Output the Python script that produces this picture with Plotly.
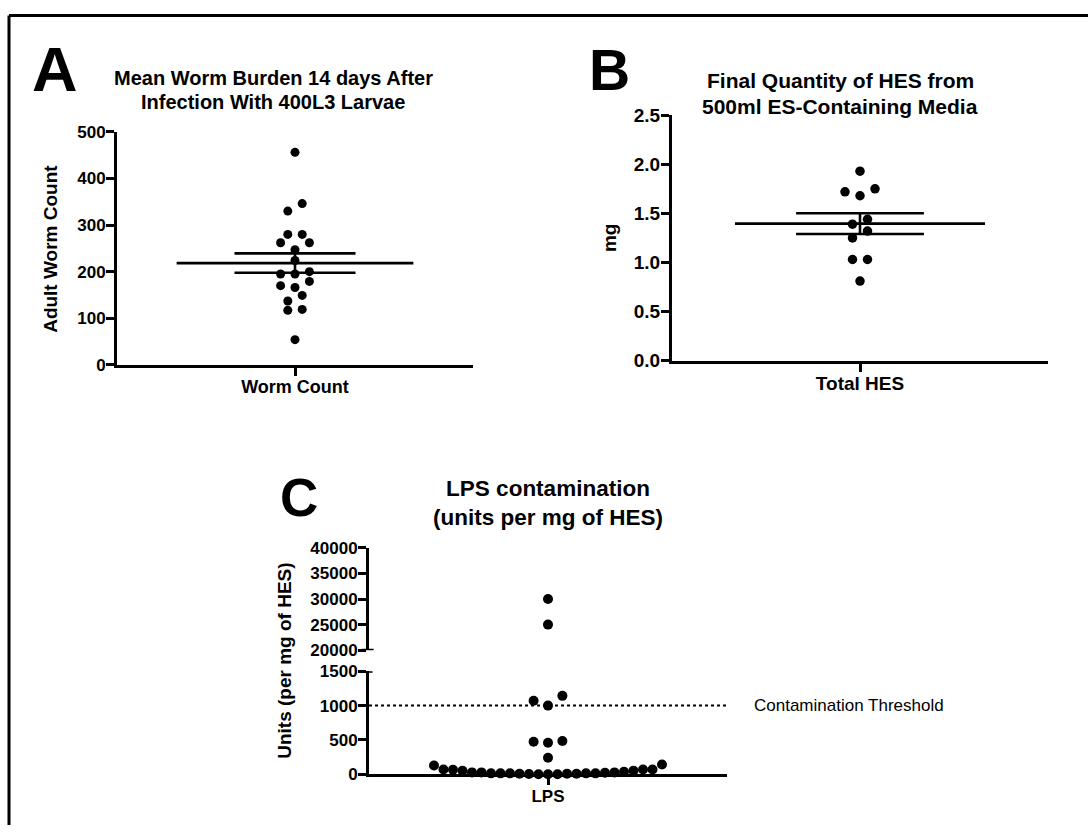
import numpy as np
import plotly.graph_objects as go

W, H = 1088, 836

# ---------------- data ----------------
worm_category = "Worm Count"
worm_counts = [456, 346, 330, 280, 280, 262, 262, 247, 224, 200, 195, 195,
               179, 170, 166, 149, 137, 119, 117, 54]
worm_yticks = [0, 100, 200, 300, 400, 500]

hes_category = "Total HES"
hes_mg = [1.93, 1.75, 1.72, 1.68, 1.44, 1.39, 1.32, 1.25, 1.03, 1.03, 0.81]
hes_yticks = [0.0, 0.5, 1.0, 1.5, 2.0, 2.5]

lps_category = "LPS"
lps_units = [30000, 25000, 1142, 1071, 1000, 484, 474, 460, 242,
             142, 128, 71, 71, 71, 66, 52, 52, 38, 28, 28, 28, 23,
             14, 14, 14, 14, 14, 9, 9, 9, 5, 0, 0, 0]
lps_low_ticks = [0, 500, 1000, 1500]
lps_high_ticks = [20000, 25000, 30000, 35000, 40000]
lps_threshold = 1000
threshold_label = "Contamination Threshold"

titles = {
    "A": ["Mean Worm Burden 14 days After", "Infection With 400L3 Larvae"],
    "B": ["Final Quantity of HES from", "500ml ES-Containing Media"],
    "C": ["LPS contamination", "(units per mg of HES)"],
}
axis_titles = {"A": "Adult Worm Count", "B": "mg", "C": "Units (per mg of HES)"}

# ---------------- geometry (pixels) ----------------
FONT = "Liberation Sans, Arial, Helvetica, sans-serif"
A_X, A_Y = (117, 473), (125, 364)
B_X, B_Y = (672, 1048), (108, 359.6)
C_X, C_LOW, C_HIGH = (369, 727), (678.3, 784), (551.7, 656.7)


def fx(p):
    return p / W


def fy(p):
    return 1 - p / H


def lin(v, r0, r1, p_bottom, p_top):
    return p_bottom - (v - r0) / (r1 - r0) * (p_bottom - p_top)


def row_swarm(values, ypix, xspan_px, step, bin_h, max_span=1e9):
    """Prism-like scatter layout: points grouped in rows (from the bottom up),
    spread symmetrically. Returns x offsets in data units (axis range [-1, 1])."""
    vals = np.array(values, dtype=float)
    py = np.array([ypix(v) for v in values], dtype=float)
    order = np.argsort(-py, kind="stable")
    rows, cur, start = [], [], None
    for i in order:
        if cur and start - py[i] <= bin_h:
            cur.append(i)
        else:
            if cur:
                rows.append(cur)
            cur, start = [i], py[i]
    rows.append(cur)
    xs = np.zeros(len(values))
    for r in rows:
        n = len(r)
        s = min(step, max_span / (n - 1)) if n > 1 else 0.0
        pos = [(k - (n - 1) / 2.0) * s for k in range(n)]
        pos = sorted(pos, key=lambda p: (round(abs(p), 6), p))
        members = sorted(r, key=lambda i: vals[i])
        for i, p in zip(members, pos):
            xs[i] = p
    return xs / (xspan_px / 2.0)


def mean_sem_traces(vals, xa, ya):
    m = float(np.mean(vals))
    s = float(np.std(vals, ddof=1) / np.sqrt(len(vals)))
    line = dict(color="black", width=2.6)
    return [
        go.Scatter(x=[-0.665, 0.665], y=[m, m], mode="lines", line=line,
                   xaxis=xa, yaxis=ya, hoverinfo="skip", cliponaxis=False),
        go.Scatter(x=[-0.34, 0.34, None, -0.34, 0.34, None, 0, 0],
                   y=[m + s, m + s, None, m - s, m - s, None, m - s, m + s],
                   mode="lines", line=line, xaxis=xa, yaxis=ya,
                   hoverinfo="skip", cliponaxis=False),
    ]


fig = go.Figure()

# Panel A
a_y = lambda v: lin(v, 0, 500, A_Y[1], A_Y[0])
a_x = row_swarm(worm_counts, a_y, A_X[1] - A_X[0], 14.4, 9)
fig.add_trace(go.Scatter(x=a_x, y=worm_counts, mode="markers",
                         marker=dict(size=9, color="black"),
                         xaxis="x", yaxis="y", cliponaxis=False))
for t in mean_sem_traces(worm_counts, "x", "y"):
    fig.add_trace(t)

# Panel B
b_y = lambda v: lin(v, 0, 2.5, B_Y[1], B_Y[0])
b_x = row_swarm(hes_mg, b_y, B_X[1] - B_X[0], 15, 9)
fig.add_trace(go.Scatter(x=b_x, y=hes_mg, mode="markers",
                         marker=dict(size=9.5, color="black"),
                         xaxis="x2", yaxis="y2", cliponaxis=False))
for t in mean_sem_traces(hes_mg, "x2", "y2"):
    fig.add_trace(t)


# Panel C (broken axis)
def c_y(v):
    if v >= 20000:
        return lin(v, 20000, 40000, C_HIGH[1], C_HIGH[0])
    return lin(v, 0, 1500, C_LOW[1], C_LOW[0])


c_x = row_swarm(lps_units, c_y, C_X[1] - C_X[0], 14.4, 10.5, max_span=228)
low_idx = [i for i, v in enumerate(lps_units) if v < 20000]
high_idx = [i for i, v in enumerate(lps_units) if v >= 20000]
fig.add_trace(go.Scatter(x=[c_x[i] for i in low_idx], y=[lps_units[i] for i in low_idx],
                         mode="markers", marker=dict(size=10, color="black"),
                         xaxis="x3", yaxis="y3", cliponaxis=False))
fig.add_trace(go.Scatter(x=[c_x[i] for i in high_idx], y=[lps_units[i] for i in high_idx],
                         mode="markers", marker=dict(size=10, color="black"),
                         xaxis="x3", yaxis="y4", cliponaxis=False))


def yaxis(dom_px, rng, ticks, size, anchor, fmt=str):
    return dict(domain=[fy(dom_px[1]), fy(dom_px[0])], range=rng,
                tickvals=ticks, ticktext=[fmt(t) for t in ticks],
                showline=True, linewidth=3, linecolor="black",
                ticks="outside", ticklen=8, tickwidth=3, tickcolor="black",
                ticklabelstandoff=-3,
                showgrid=False, zeroline=False, anchor=anchor, fixedrange=True,
                tickfont=dict(family=FONT, size=size, color="black", weight="bold"))


def xaxis(dom_px, label, size, anchor):
    return dict(domain=[fx(dom_px[0]), fx(dom_px[1])], range=[-1, 1],
                tickvals=[0], ticktext=[label],
                showline=True, linewidth=3, linecolor="black",
                ticks="outside", ticklen=8, tickwidth=3, tickcolor="black",
                ticklabelstandoff=-4,
                showgrid=False, zeroline=False, anchor=anchor, fixedrange=True,
                tickfont=dict(family=FONT, size=size, color="black", weight="bold"))


fig.update_layout(
    width=W, height=H, margin=dict(l=0, r=0, t=0, b=0),
    paper_bgcolor="white", plot_bgcolor="white", showlegend=False,
    xaxis=xaxis(A_X, worm_category, 18, "y"),
    yaxis=yaxis(A_Y, [0, 500], worm_yticks, 17, "x"),
    xaxis2=xaxis(B_X, hes_category, 19, "y2"),
    yaxis2=yaxis(B_Y, [0, 2.5], hes_yticks, 19, "x2", fmt=lambda t: f"{t:.1f}"),
    xaxis3=xaxis(C_X, lps_category, 17, "y3"),
    yaxis3=yaxis(C_LOW, [0, 1500], lps_low_ticks, 17, "x3"),
    yaxis4=yaxis(C_HIGH, [20000, 40000], lps_high_ticks, 17, "x3"),
)

shapes = [
    # outer frame (top and left edges; the rest falls outside the picture)
    dict(type="line", xref="paper", yref="paper", x0=fx(9), x1=1.0, y0=fy(5.7), y1=fy(5.7),
         line=dict(color="black", width=3)),
    dict(type="line", xref="paper", yref="paper", x0=fx(9), x1=fx(9), y0=0.0, y1=fy(5.7),
         line=dict(color="black", width=3)),
    # threshold line
    dict(type="line", xref="x3 domain", yref="y3", x0=0, x1=1,
         y0=lps_threshold, y1=lps_threshold,
         line=dict(color="black", width=2, dash="dot")),
    # axis break marks
    dict(type="line", xref="x3 domain", yref="y4", x0=-0.02, x1=0.013,
         y0=20000, y1=20000, line=dict(color="black", width=3)),
    dict(type="line", xref="x3 domain", yref="y3", x0=-0.02, x1=0.01,
         y0=1500, y1=1500, line=dict(color="black", width=3)),
]
fig.update_layout(shapes=shapes)

ann = []


def text(x, y, s, size, bold=True, angle=0, xanchor="center"):
    ann.append(dict(x=fx(x), y=fy(y), xref="paper", yref="paper", text=s,
                    showarrow=False, textangle=angle, xanchor=xanchor, yanchor="middle",
                    font=dict(family=FONT, size=size, color="black",
                              weight="bold" if bold else "normal")))


# panel letters
text(55, 60.5, "A", 63)
text(609, 61.7, "B", 57)
text(298.5, 500, "C", 53)
# titles
text(273, 69.7, titles["A"][0], 20)
text(273, 94.7, titles["A"][1], 20)
text(840, 72.7, titles["B"][0], 21)
text(840, 99.4, titles["B"][1], 21)
text(548.3, 506, "<br>".join(titles["C"]), 22.5)
# axis titles
text(51, 245, axis_titles["A"], 19, angle=-90)
text(609, 234, axis_titles["B"], 19, angle=-90)
text(285, 667.5, axis_titles["C"], 19, angle=-90)
# threshold label
text(752, 713.7, threshold_label, 17, bold=False, xanchor="left")

fig.update_layout(annotations=ann)
fig.write_html("out.html")
